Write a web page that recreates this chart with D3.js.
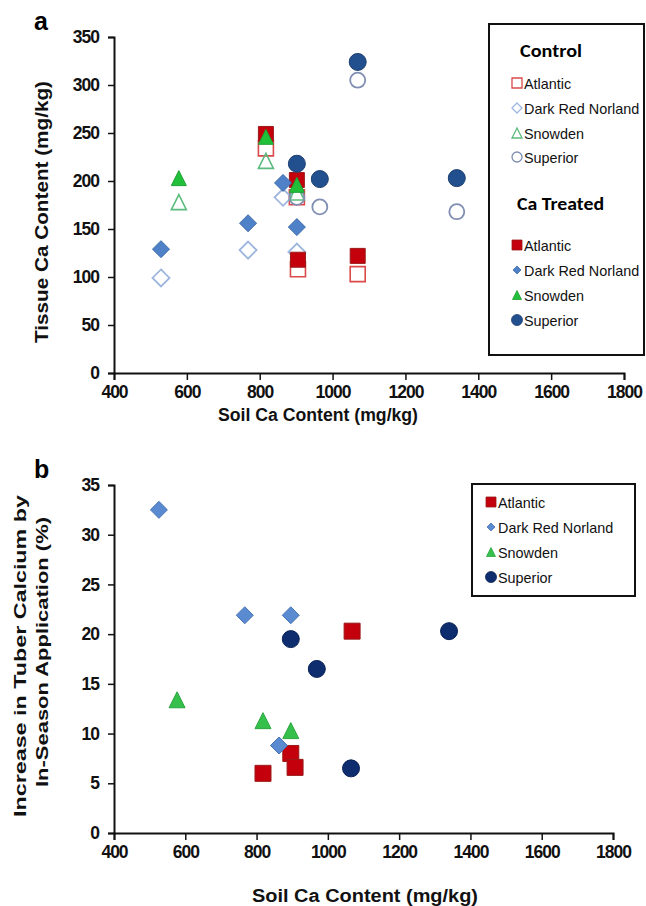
<!DOCTYPE html>
<meta charset="utf-8">
<script src="https://d3js.org/d3.v7.min.js"></script>
<style>
  body { margin: 0; background: #fff; }
  text { font-family: "Liberation Sans", Arial, sans-serif; }
</style>
<div id="my_dataviz"></div>
<script>
// ---- data ----
var cultivars = ["Atlantic", "Dark Red Norland", "Snowden", "Superior"];

// panel a: tissue Ca (mg/kg) vs soil Ca (mg/kg)
var ctrlAtlantic  = [[817, 234], [902, 183], [905, 108], [1069, 103]];
var ctrlNorland   = [[529, 99], [768, 128], [864, 183], [902, 126]];
var ctrlSnowden   = [[578, 178], [817, 221], [902, 188]];
var ctrlSuperior  = [[902, 183], [965, 173], [1069, 305], [1341, 168]];
var trtAtlantic   = [[817, 249], [902, 201], [905, 118], [1069, 122]];
var trtNorland    = [[529, 129], [768, 156], [864, 198], [902, 152]];
var trtSnowden    = [[578, 203], [817, 246], [902, 196]];
var trtSuperior   = [[902, 218], [965, 202], [1069, 324], [1341, 203]];

// panel b: increase in tuber calcium (%) vs soil Ca
var incAtlantic = [[818, 6.0], [896, 8.0], [908, 6.6], [1068, 20.3]];
var incNorland  = [[526, 32.5], [767, 21.9], [896, 21.9], [863, 8.8]];
var incSnowden  = [[577, 13.4], [818, 11.3], [896, 10.3]];
var incSuperior = [[896, 19.5], [969, 16.5], [1065, 6.5], [1340, 20.3]];

var xTicks  = [400, 600, 800, 1000, 1200, 1400, 1600, 1800];
var yTicksA = [0, 50, 100, 150, 200, 250, 300, 350];
var yTicksB = [0, 5, 10, 15, 20, 25, 30, 35];

var width = 646, height = 906;
var svg = d3.select("#my_dataviz")
  .append("svg")
    .attr("width", width)
    .attr("height", height);

// custom marker shapes, "size" is width in px here
var shapes = {
  square: function(s) { var h = s / 2; return "M" + (-h) + "," + (-h) + "h" + s + "v" + s + "h" + (-s) + "Z"; },
  diamond: function(s) { var h = s / 2; return "M0," + (-h) + "L" + h + ",0L0," + h + "L" + (-h) + ",0Z"; },
  triangle: function(s) { var h = s / 2; return "M0," + (-h) + "L" + h + "," + h + "L" + (-h) + "," + h + "Z"; },
  circle: function(s) { var r = s / 2; return "M" + (-r) + ",0a" + r + "," + r + " 0 1,0 " + s + ",0a" + r + "," + r + " 0 1,0 " + (-s) + ",0Z"; }
};

var styleA = {
  ctrl: [
    {shape: "square",  size: 15, fill: "none", stroke: "#DA4A4A", sw: 1.6},
    {shape: "diamond", size: 17, fill: "none", stroke: "#9DB6DE", sw: 1.8},
    {shape: "triangle",size: 15, fill: "none", stroke: "#5CBB7E", sw: 1.6},
    {shape: "circle",  size: 15, fill: "none", stroke: "#7F8EB2", sw: 1.8}
  ],
  trt: [
    {shape: "square",  size: 15, fill: "#C4000C", stroke: "#9A1A1A", sw: 1},
    {shape: "diamond", size: 17, fill: "#4F81C8", stroke: "#3D6AA8", sw: 1},
    {shape: "triangle",size: 15, fill: "#20C038", stroke: "#1FA035", sw: 1},
    {shape: "circle",  size: 17, fill: "#22508E", stroke: "#1A3E70", sw: 1}
  ]
};
var styleB = [
  {shape: "square",  size: 16, fill: "#C4000C", stroke: "#9A1A1A", sw: 1},
  {shape: "diamond", size: 17, fill: "#5A8AD0", stroke: "#4A75B5", sw: 1},
  {shape: "triangle",size: 16, fill: "#34C04A", stroke: "#2AA640", sw: 1},
  {shape: "circle",  size: 17, fill: "#0E2D6E", stroke: "#0A2257", sw: 1}
];

function drawMarks(g, data, st, x, y) {
  g.append("g").selectAll("path")
    .data(data)
    .enter().append("path")
      .attr("transform", function(d) { return "translate(" + x(d[0]) + "," + y(d[1]) + ")"; })
      .attr("d", shapes[st.shape](st.size))
      .style("fill", st.fill)
      .style("stroke", st.stroke)
      .style("stroke-width", st.sw);
}

function drawAxes(x, y, xt, yt) {
  var gx = svg.append("g")
    .attr("transform", "translate(0," + y.range()[0] + ")")
    .call(d3.axisBottom(x).tickValues(xt).tickSize(7).tickPadding(6).tickFormat(d3.format("d")));
  var gy = svg.append("g")
    .attr("transform", "translate(" + x.range()[0] + ",0)")
    .call(d3.axisLeft(y).tickValues(yt).tickSize(6).tickPadding(9).tickFormat(d3.format("d")));
  [gx, gy].forEach(function(g) {
    g.select(".domain").style("stroke", "#111").style("stroke-width", 2);
    g.selectAll(".tick line").style("stroke", "#111").style("stroke-width", 1.5);
    g.selectAll(".tick text")
      .style("font-size", "17.5px").style("font-weight", "bold")
      .style("letter-spacing", "-1px").style("fill", "#111");
  });
}

function label(txt, px, py, len, rot, size) {
  svg.append("text")
    .attr("transform", "translate(" + px + "," + py + ")" + (rot ? " rotate(-90)" : ""))
    .attr("text-anchor", "middle")
    .attr("textLength", len)
    .attr("lengthAdjust", "spacingAndGlyphs")
    .style("font-size", size + "px")
    .style("font-weight", "bold")
    .style("fill", "#111")
    .text(txt);
}

// ---- panel a ----
var xA = d3.scaleLinear().domain([400, 1800]).range([114, 624]);
var yA = d3.scaleLinear().domain([0, 350]).range([373, 37]);
drawAxes(xA, yA, xTicks, yTicksA);

var gA = svg.append("g");
[ctrlAtlantic, ctrlNorland, ctrlSnowden, ctrlSuperior].forEach(function(d, i) { drawMarks(gA, d, styleA.ctrl[i], xA, yA); });
[trtAtlantic, trtNorland, trtSnowden, trtSuperior].forEach(function(d, i) { drawMarks(gA, d, styleA.trt[i], xA, yA); });

label("Soil Ca Content (mg/kg)", 318, 421, 200, false, 17.5);
label("Tissue Ca Content (mg/kg)", 48, 212, 262, true, 18);
svg.append("text").attr("x", 34).attr("y", 30).style("font-size", "25px").style("font-weight", "bold").text("a");

// legend a
var lgA = svg.append("g");
lgA.append("rect").attr("x", 489).attr("y", 24).attr("width", 155).attr("height", 331)
  .style("fill", "#fff").style("stroke", "#111").style("stroke-width", 2);
var headA = [["Control", 57, 62], ["Ca Treated", 210, 87]];
headA.forEach(function(h) {
  lgA.append("text").attr("x", h[0] === "Control" ? 520 : 517).attr("y", h[1])
    .attr("textLength", h[2]).attr("lengthAdjust", "spacingAndGlyphs")
    .style("font-size", "19px").style("font-weight", "bold")
    .style("font-family", "Carlito, 'Liberation Sans', sans-serif").text(h[0]);
});
var ctrlRows = [83, 108, 133, 157], trtRows = [245, 270, 295, 320];
var ctrlLegSize = [10, 10, 10, 10], trtLegSize = [10, 8, 9, 11];
cultivars.forEach(function(c, i) {
  [[ctrlRows[i], styleA.ctrl[i], ctrlLegSize[i]], [trtRows[i], styleA.trt[i], trtLegSize[i]]].forEach(function(r) {
    lgA.append("path")
      .attr("transform", "translate(517," + r[0] + ")")
      .attr("d", shapes[r[1].shape](r[2]))
      .style("fill", r[1].fill).style("stroke", r[1].stroke).style("stroke-width", r[1].fill === "none" ? 1.3 : 0.8);
    lgA.append("text").attr("x", 524).attr("y", r[0] + 5.5)
      .style("font-size", "14.4px").style("fill", "#111").text(c);
  });
});

// ---- panel b ----
var xB = d3.scaleLinear().domain([400, 1800]).range([114, 613]);
var yB = d3.scaleLinear().domain([0, 35]).range([833, 485]);
drawAxes(xB, yB, xTicks, yTicksB);

var gB = svg.append("g");
[incAtlantic, incNorland, incSnowden, incSuperior].forEach(function(d, i) { drawMarks(gB, d, styleB[i], xB, yB); });

label("Soil Ca Content (mg/kg)", 365, 902, 226, false, 17.5);
label("Increase in Tuber Calcium by", 26, 656, 322, true, 17);
label("In-Season Application (%)", 48, 652, 270, true, 17);
svg.append("text").attr("x", 34).attr("y", 478).style("font-size", "25px").style("font-weight", "bold").text("b");

// legend b
var lgB = svg.append("g");
lgB.append("rect").attr("x", 472).attr("y", 484).attr("width", 163).attr("height", 112)
  .style("fill", "#fff").style("stroke", "#111").style("stroke-width", 2);
var rowsB = [502, 527, 552, 577], legSizeB = [10, 8, 9, 11];
cultivars.forEach(function(c, i) {
  lgB.append("path")
    .attr("transform", "translate(491," + rowsB[i] + ")")
    .attr("d", shapes[styleB[i].shape](legSizeB[i]))
    .style("fill", styleB[i].fill).style("stroke", styleB[i].stroke).style("stroke-width", 0.8);
  lgB.append("text").attr("x", 498).attr("y", rowsB[i] + 5.5)
    .style("font-size", "14.4px").style("fill", "#111").text(c);
});
</script>
